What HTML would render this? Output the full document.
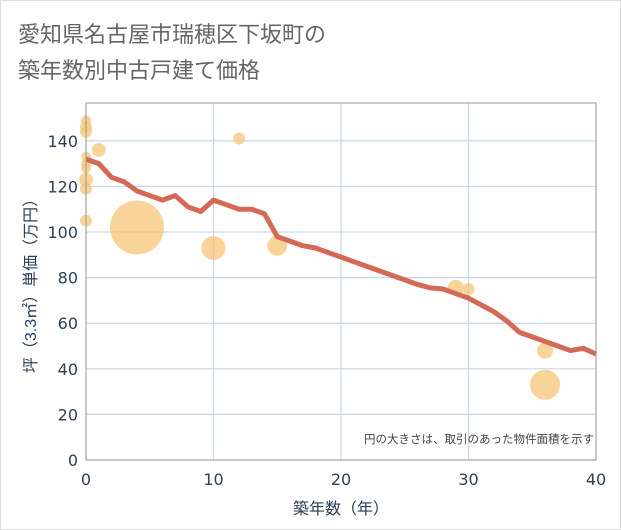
<!DOCTYPE html>
<html><head><meta charset="utf-8"><style>
body{margin:0;background:#fff;}
svg{display:block;font-family:"Liberation Sans","Noto Sans CJK JP",sans-serif;}
.num{font-family:"DejaVu Sans",sans-serif;}
</style></head><body>
<svg width="621" height="530">
<rect x="0.5" y="0.5" width="620" height="529" fill="#fff" stroke="#ddd"/>
<text x="18" y="42" font-size="22" fill="#666">愛知県名古屋市瑞穂区下坂町の</text>
<text x="18" y="78" font-size="22" fill="#666">築年数別中古戸建て価格</text>
<g id="grid"></g><g id="bubbles"></g><g id="line"></g><g id="axes"></g>
<text x="594" y="443" font-size="11.5" fill="#444" text-anchor="end">円の大きさは、取引のあった物件面積を示す</text>
<text x="341" y="514" font-size="16" fill="#2c3e5a" text-anchor="middle">築年数（年）</text>
<text transform="translate(36,282) rotate(-90)" font-size="16" fill="#2c3e5a" text-anchor="middle">坪（3.3㎡）単価（万円）</text>
</svg>
<script>
const lineX=[0,1,2,3,4,5,6,7,8,9,10,11,12,13,14,15,16,17,18,19,20,21,22,23,24,25,26,27,28,29,30,31,32,33,34,35,36,37,38,39,40];
const lineY=[132,130,124,122,118,116,114,116,111,109,114,112,110,110,108,98,96,94,93,91,89,87,85,83,81,79,77,75.5,75,73,71,68,65,61,56,54,52,50,48,49,46.5];
const bubX=[0,0,0,0,0,0,0,0,0,1,4,10,12,15,29,30,36,36];
const bubY=[149,146,144,133,130,128,123,119,105,136,102,93,141,94,75.5,75,48,33];
const bubR=[5,6,6,5,5,5,7,6,6,7,27,12,6,10,8,6,8,15];
const xTicks=[0,10,20,30,40];
const yTicks=[0,20,40,60,80,100,120,140];
const NS='http://www.w3.org/2000/svg';
const X0=86,X1=596,Y0=460,Y1=103,XMAX=40,YMAX=156.6;
const sx=v=>X0+(X1-X0)*v/XMAX, sy=v=>Y0-(Y0-Y1)*v/YMAX;
function mk(t,a,p){const e=document.createElementNS(NS,t);for(const k in a)e.setAttribute(k,a[k]);p.appendChild(e);return e;}
const g=document.getElementById('grid'),ax=document.getElementById('axes');
yTicks.forEach(v=>{const l=mk('line',{x1:X0,x2:X1,y1:sy(v),y2:sy(v),stroke:'#c9d6e3','stroke-width':1.2},g);

const t=mk('text',{x:X0-8,y:sy(v)+6,'font-size':16,fill:'#2c3e5a','text-anchor':'end','class':'num'},ax);t.textContent=v;
});
xTicks.forEach(v=>{const l=mk('line',{x1:sx(v),x2:sx(v),y1:Y1,y2:Y0,stroke:'#c9d6e3','stroke-width':1.2},g);

const t=mk('text',{x:sx(v),y:Y0+25,'font-size':16,fill:'#2c3e5a','text-anchor':'middle','class':'num'},ax);t.textContent=v;
});
const b=mk('rect',{x:X0,y:Y1,width:X1-X0,height:Y0-Y1,fill:'none',stroke:'#999','stroke-width':1},ax);

const bg=document.getElementById('bubbles');
bubX.forEach((v,i)=>{const c=mk('circle',{cx:sx(v),cy:sy(bubY[i]),r:bubR[i],fill:'#f5c57a','fill-opacity':0.75},bg);
});
const p=mk('polyline',{points:lineX.map((v,i)=>sx(v)+','+sy(lineY[i])).join(' '),fill:'none',stroke:'#d46a55','stroke-width':5,'stroke-linejoin':'round'},document.getElementById('line'));

</script>
</body></html>
